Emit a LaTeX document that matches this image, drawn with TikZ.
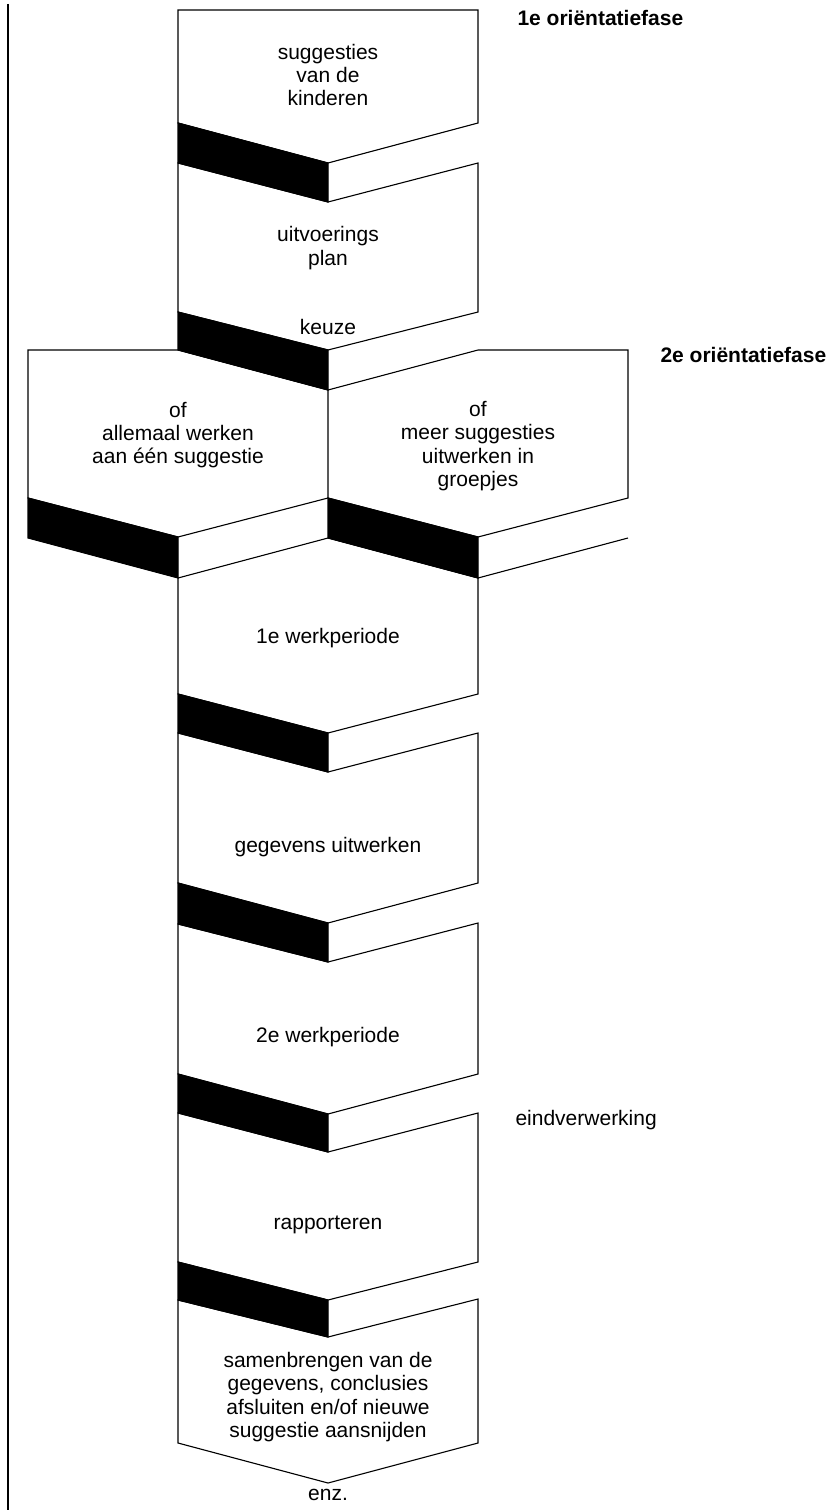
\documentclass[tikz,border=0pt]{standalone}
\usepackage{fontspec}
\setmainfont{Liberation Sans}
\usepackage{tikz}

\begin{document}
\begin{tikzpicture}[x=1pt,y=-1pt,line width=1.1pt,line join=miter,
  lbl/.style={align=center,inner sep=0pt,font=\fontsize{21}{23.3}\selectfont},
  fase/.style={anchor=west,inner sep=0pt,font=\fontsize{21}{23.3}\selectfont\bfseries},
  band/.style={fill=black}]
\useasboundingbox (0,0) rectangle (835,1512);
\draw (8,4) -- (8,1510);

\draw (178,123) -- (178,10) -- (478,10) -- (478,123) -- (328,163) -- cycle;
\draw[band] (178,123) -- (328,163) -- (328,202) -- (178,163) -- cycle;
\node[lbl] (sugg) at (328,75) {suggesties\\van de\\kinderen};
\node[fase] (fase1) at (517,18) {1e oriëntatiefase};

\draw (178,163) -- (328,202) -- (478,163) -- (478,312) -- (328,350) -- (178,312) -- cycle;
\draw[band] (178,312) -- (328,350) -- (328,390) -- (178,350) -- cycle;
\node[lbl] (plan) at (328,248) {uitvoerings\\plan};
\node[lbl] (keuze) at (328,327) {keuze};

\draw (28,350) -- (178,350) -- (328,390) -- (328,498) -- (178,537) -- (28,498) -- cycle;
\draw (328,390) -- (478,350) -- (628,350) -- (628,498) -- (478,537) -- (328,498);
\draw[band] (28,498) -- (178,537) -- (178,578) -- (28,538) -- cycle;
\draw[band] (328,498) -- (478,537) -- (478,578) -- (328,538) -- cycle;
\draw (478,578) -- (628,538);
\node[lbl] (allen) at (178,435) {of\\allemaal werken\\aan één suggestie};
\node[lbl] (groep) at (478,446) {of\\meer suggesties\\uitwerken in\\groepjes};
\node[fase] (fase2) at (660,355) {2e oriëntatiefase};

\draw (178,578) -- (328,538) -- (478,578) -- (478,694) -- (328,733) -- (178,694) -- cycle;
\draw[band] (178,694) -- (328,733) -- (328,772) -- (178,733) -- cycle;
\node[lbl] (werk1) at (328,638) {1e werkperiode};

\draw (178,733) -- (328,772) -- (478,733) -- (478,883) -- (328,923) -- (178,883) -- cycle;
\draw[band] (178,883) -- (328,923) -- (328,962) -- (178,924) -- cycle;
\node[lbl] (uitw) at (328,847) {gegevens uitwerken};

\draw (178,924) -- (328,962) -- (478,923) -- (478,1074) -- (328,1114) -- (178,1074) -- cycle;
\draw[band] (178,1074) -- (328,1114) -- (328,1152) -- (178,1113) -- cycle;
\node[lbl] (werk2) at (328,1037) {2e werkperiode};
\node[lbl,anchor=west] (eind) at (515,1120) {eindverwerking};

\draw (178,1113) -- (328,1152) -- (478,1113) -- (478,1262) -- (328,1300) -- (178,1262) -- cycle;
\draw[band] (178,1262) -- (328,1300) -- (328,1337) -- (178,1300) -- cycle;
\node[lbl] (rapp) at (328,1225) {rapporteren};

\draw (178,1300) -- (328,1337) -- (478,1299) -- (478,1443) -- (328,1483) -- (178,1443) -- cycle;
\node[lbl] (samen) at (328,1397) {samenbrengen van de\\gegevens, conclusies\\afsluiten en/of nieuwe\\suggestie aansnijden};
\node[lbl] (enz) at (328,1495) {enz.};
\end{tikzpicture}
\end{document}
